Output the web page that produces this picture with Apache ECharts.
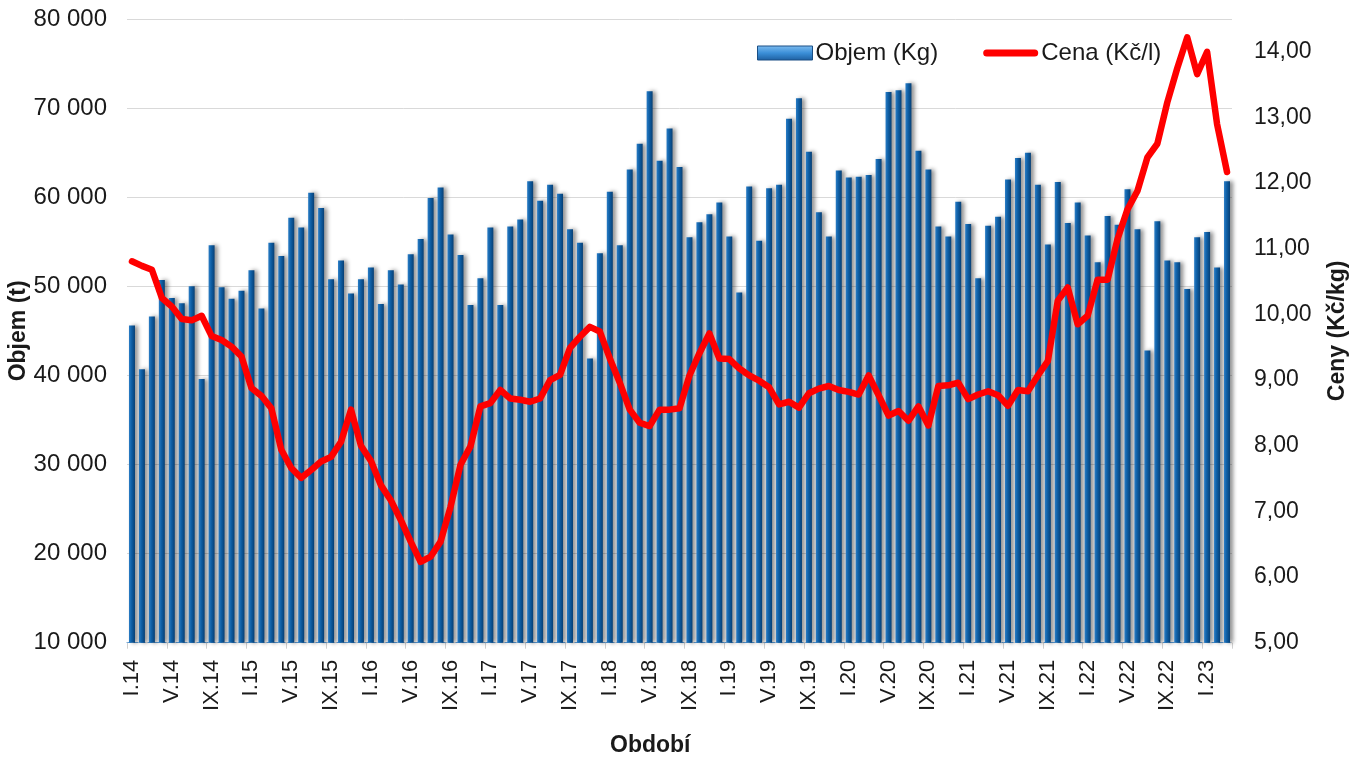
<!DOCTYPE html>
<html>
<head>
<meta charset="utf-8">
<script src="https://cdn.jsdelivr.net/npm/echarts@6/dist/echarts.min.js"></script>
<style>
html,body{margin:0;padding:0;background:#fff;}
#chart{width:1363px;height:760px;}
</style>
</head>
<body>
<div id="chart"></div>
<script>
const categories = [
'I.14','II.14','III.14','IV.14','V.14','VI.14','VII.14','VIII.14','IX.14','X.14','XI.14','XII.14',
'I.15','II.15','III.15','IV.15','V.15','VI.15','VII.15','VIII.15','IX.15','X.15','XI.15','XII.15',
'I.16','II.16','III.16','IV.16','V.16','VI.16','VII.16','VIII.16','IX.16','X.16','XI.16','XII.16',
'I.17','II.17','III.17','IV.17','V.17','VI.17','VII.17','VIII.17','IX.17','X.17','XI.17','XII.17',
'I.18','II.18','III.18','IV.18','V.18','VI.18','VII.18','VIII.18','IX.18','X.18','XI.18','XII.18',
'I.19','II.19','III.19','IV.19','V.19','VI.19','VII.19','VIII.19','IX.19','X.19','XI.19','XII.19',
'I.20','II.20','III.20','IV.20','V.20','VI.20','VII.20','VIII.20','IX.20','X.20','XI.20','XII.20',
'I.21','II.21','III.21','IV.21','V.21','VI.21','VII.21','VIII.21','IX.21','X.21','XI.21','XII.21',
'I.22','II.22','III.22','IV.22','V.22','VI.22','VII.22','VIII.22','IX.22','X.22','XI.22','XII.22',
'I.23','II.23','III.23'
];

const objem = [
45600,40700,46600,50700,48700,48100,50000,39600,54600,49900,48600,49500,
51800,47500,54900,53400,57700,56600,60500,58800,50800,52900,49200,50800,
52100,48000,51800,50200,53600,55300,59900,61100,55800,53500,47900,50900,
56600,47900,56700,57500,61800,59600,61400,60400,56400,54900,41900,53700,
60600,54600,63100,66000,71900,64100,67700,63400,55500,57200,58100,59400,
55600,49300,61200,55100,61000,61400,68800,71100,65100,58300,55600,63000,
62200,62300,62500,64300,71800,72000,72800,65200,63100,56700,55600,59500,
57000,50900,56800,57800,62000,64400,65000,61400,54700,61700,57100,59400,
55700,52700,57900,56900,60900,56400,42800,57300,52900,52700,49700,55500,
56100,52100,61800
];

const cena = [
10.81,10.74,10.68,10.25,10.12,9.93,9.91,9.98,9.67,9.61,9.51,9.36,
8.88,8.76,8.57,7.94,7.66,7.51,7.63,7.76,7.83,8.06,8.55,8.00,
7.77,7.40,7.17,6.87,6.54,6.23,6.31,6.54,7.07,7.71,7.99,8.60,
8.65,8.85,8.72,8.70,8.67,8.72,9.00,9.08,9.49,9.66,9.81,9.74,
9.33,8.96,8.55,8.35,8.30,8.55,8.55,8.57,9.07,9.41,9.71,9.33,
9.32,9.18,9.07,8.99,8.89,8.63,8.67,8.58,8.80,8.87,8.91,8.85,
8.82,8.78,9.07,8.77,8.46,8.53,8.38,8.60,8.31,8.91,8.92,8.96,
8.71,8.78,8.83,8.77,8.61,8.85,8.83,9.07,9.29,10.21,10.41,9.85,
9.98,10.53,10.53,11.15,11.60,11.88,12.39,12.60,13.23,13.75,14.22,13.66,
14.00,12.90,12.17
];

const seriesNames = ['Objem (Kg)', 'Cena (Kč/l)'];
const axisNames = {left: 'Objem (t)', right: 'Ceny (Kč/kg)', x: 'Období'};

const FONT = '"Liberation Sans", Arial, sans-serif';
const chart = echarts.init(document.getElementById('chart'), null, {renderer: 'canvas'});

const barGrad = new echarts.graphic.LinearGradient(0, 0, 1, 0, [
  {offset: 0, color: '#2a7dc6'},
  {offset: 0.45, color: '#0e5ea4'},
  {offset: 1, color: '#073f74'}
]);
const legendBarGrad = new echarts.graphic.LinearGradient(0, 0, 0, 1, [
  {offset: 0, color: '#7fbdf0'},
  {offset: 0.5, color: '#3b8fd8'},
  {offset: 1, color: '#1d5f9f'}
]);

chart.setOption({
  animation: false,
  backgroundColor: '#ffffff',
  textStyle: {fontFamily: FONT},
  title: {
    text: axisNames.x,
    left: 610, top: 734, padding: 0,
    textStyle: {fontFamily: FONT, fontSize: 23, fontWeight: 'bold', color: '#1a1a1a'}
  },
  legend: {
    left: 752, top: 36,
    itemWidth: 55, itemHeight: 14, itemGap: 45,
    symbolKeepAspect: true,
    textStyle: {fontFamily: FONT, fontSize: 24, color: '#1a1a1a', padding: [0, 0, 0, -2]},
    data: [
      {name: seriesNames[0], icon: 'rect', itemStyle: {color: legendBarGrad, borderColor: '#1a4f85', borderWidth: 1}},
      {name: seriesNames[1], icon: 'path://M3.5,0 L51.5,0 A3.5,3.5 0 0 1 51.5,7 L3.5,7 A3.5,3.5 0 0 1 3.5,0 Z',
       itemStyle: {color: '#ff0000', borderWidth: 0}, lineStyle: {width: 0, opacity: 0}}
    ]
  },
  grid: {left: 127, right: 131, top: 19, bottom: 117.3, containLabel: false, outerBoundsMode: 'none'},
  xAxis: {
    type: 'category',
    data: categories,
    boundaryGap: true,
    axisLine: {show: true, lineStyle: {color: '#5b9bd5', width: 1, type: [4, 3]}},
    axisTick: {show: true, interval: 3, length: 6, alignWithLabel: false, lineStyle: {color: '#d0d0d0'}},
    axisLabel: {interval: 3, rotate: 90, margin: 17, fontSize: 22, fontFamily: FONT, color: '#1a1a1a'},
    splitLine: {show: false}
  },
  yAxis: [
    {
      type: 'value', position: 'left',
      min: 10000, max: 80000, interval: 10000,
      name: axisNames.left, nameLocation: 'middle', nameGap: 97, nameRotate: 90,
      nameMoveOverlap: false,
      nameTextStyle: {fontFamily: FONT, fontSize: 23, fontWeight: 'bold', color: '#1a1a1a'},
      axisLine: {show: false}, axisTick: {show: false},
      axisLabel: {
        margin: 20, fontSize: 24, fontFamily: FONT, color: '#1a1a1a',
        formatter: v => String(v).replace(/\B(?=(\d{3})+(?!\d))/g, ' ')
      },
      splitLine: {show: true, lineStyle: {color: '#d9d9d9', width: 1}}
    },
    {
      type: 'value', position: 'right',
      min: 5, max: 14.5, interval: 1,
      name: axisNames.right, nameLocation: 'middle', nameGap: 94, nameRotate: 90,
      nameMoveOverlap: false,
      nameTextStyle: {fontFamily: FONT, fontSize: 23, fontWeight: 'bold', color: '#1a1a1a'},
      axisLine: {show: false}, axisTick: {show: false},
      axisLabel: {
        margin: 22, fontSize: 23, fontFamily: FONT, color: '#1a1a1a',
        showMaxLabel: false,
        formatter: v => v.toFixed(2).replace('.', ',')
      },
      splitLine: {show: false}
    }
  ],
  series: [
    {
      name: seriesNames[0],
      type: 'bar',
      yAxisIndex: 0,
      data: objem,
      barWidth: 6,
      itemStyle: {
        color: barGrad,
        shadowColor: 'rgba(0,0,0,0.45)',
        shadowBlur: 4,
        shadowOffsetX: 3,
        shadowOffsetY: 0
      },
      z: 2
    },
    {
      name: seriesNames[1],
      type: 'line',
      yAxisIndex: 1,
      data: cena,
      symbol: 'none',
      smooth: false,
      lineStyle: {color: '#ff0000', width: 6.5, join: 'round', cap: 'round'},
      itemStyle: {color: '#ff0000'},
      z: 5
    }
  ]
});
</script>
</body>
</html>
